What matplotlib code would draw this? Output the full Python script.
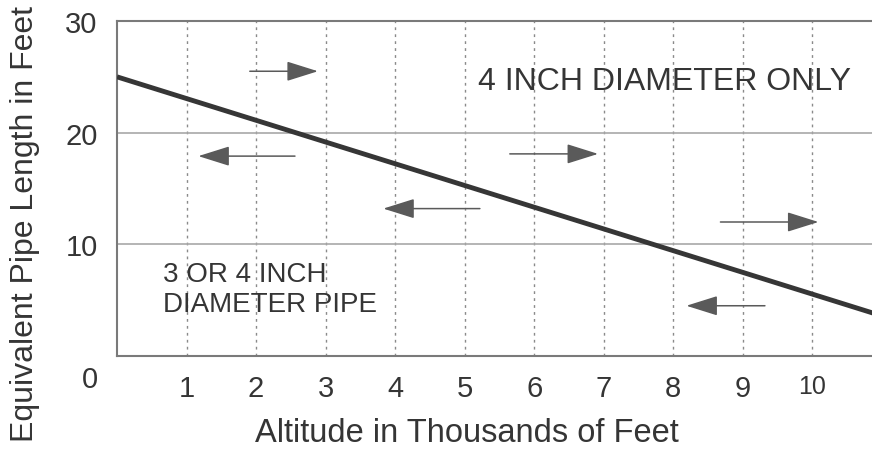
import matplotlib
matplotlib.use('Agg')
import matplotlib.pyplot as plt
from matplotlib.transforms import ScaledTranslation

plt.rcParams['font.family'] = ['Liberation Sans', 'DejaVu Sans']

# the straight line of the chart
altitude = [0, 11]
pipe_length = [25, 3.6]

# axis ticks
x_ticks = [1, 2, 3, 4, 5, 6, 7, 8, 9, 10]
y_ticks = [0, 10, 20, 30]

# the arrows (tail -> head) drawn on the chart
arrow_tail_x = [1.91, 2.56, 5.65, 5.22, 8.68, 9.32]
arrow_head_x = [2.89, 1.17, 6.92, 3.83, 10.09, 8.19]
arrow_y = [25.5, 17.9, 18.1, 13.2, 12.0, 4.5]

text_col = '#353535'
grid_col = '#8a8a8a'

fig = plt.figure(figsize=(8.72, 4.52), dpi=100)
ax = fig.add_axes([117 / 872, 95 / 452, 755 / 872, 335 / 452])

ax.set_xlim(0, 10.86)
ax.set_ylim(0, 30)

# grid: dotted verticals, solid horizontals at 10 and 20
for x in x_ticks:
    ax.axvline(x, color=grid_col, lw=1.0, ls=(0, (2, 3)), zorder=1)
for y in y_ticks[1:-1]:
    ax.axhline(y, color='#a8a8a8', lw=1.2, zorder=1)

ax.plot(altitude, pipe_length, color='#363636', lw=3.5, solid_capstyle='butt', zorder=3)

for tx, hx, ay in zip(arrow_tail_x, arrow_head_x, arrow_y):
    ax.annotate('', xy=(hx, ay), xytext=(tx, ay),
                arrowprops=dict(arrowstyle='-|>,head_length=0.7,head_width=0.22',
                                mutation_scale=28, color='#5a5a5a', lw=1.1,
                                shrinkA=0, shrinkB=0), zorder=2)

ax.text(5.19, 24.6, '4 INCH DIAMETER ONLY', fontsize=23, color=text_col,
        ha='left', va='center')
ax.text(0.66, 6.0, '3 OR 4 INCH\nDIAMETER PIPE', fontsize=20, color=text_col,
        ha='left', va='center', linespacing=1.25)

# spines
for s in ['top', 'bottom', 'left']:
    ax.spines[s].set_color('#7a7a7a')
    ax.spines[s].set_linewidth(1.5)
ax.spines['right'].set_visible(False)

ax.set_xticks(x_ticks)
ax.set_yticks(y_ticks)
ax.tick_params(length=0, labelsize=21, labelcolor=text_col)
ax.tick_params(axis='x', pad=13)
ax.tick_params(axis='y', pad=14)

# the 10 on the x axis is a bit smaller, the 0 sits lower than the axis
ax.get_xticklabels()[-1].set_fontsize(18)
ylab0 = ax.get_yaxis().get_major_ticks()[0].label1
ylab0.set_transform(ylab0.get_transform() + ScaledTranslation(0, -20 / 100, fig.dpi_scale_trans))

ax.set_xlabel('Altitude in Thousands of Feet', fontsize=23.5, color=text_col, va='center')
ax.xaxis.set_label_coords(0.464, -0.227)
ax.set_ylabel('Equivalent Pipe Length in Feet', fontsize=23, color=text_col, va='center')
ax.yaxis.set_label_coords(-0.122, 0.397)

fig.savefig('out.png', dpi=100)
